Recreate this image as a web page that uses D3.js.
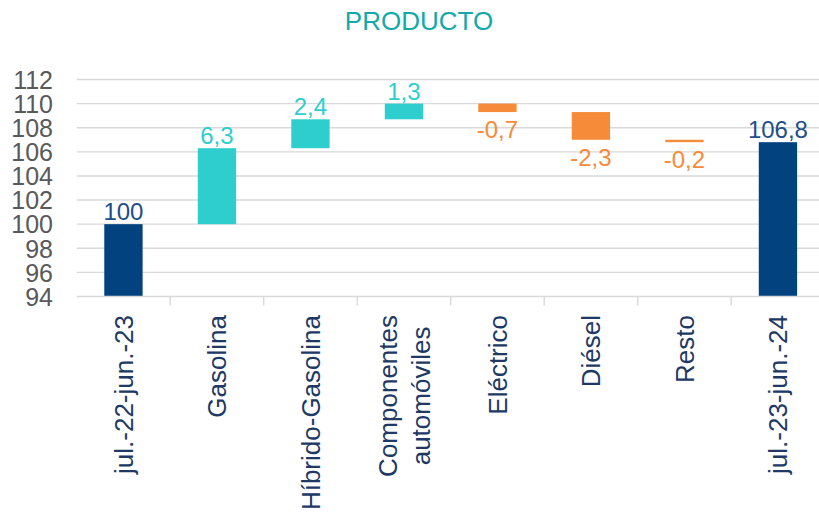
<!DOCTYPE html>
<html><head><meta charset="utf-8">
<script src="https://cdn.jsdelivr.net/npm/d3@7"></script>
<style>body{margin:0;background:#fff}svg{display:block;font-family:"Liberation Sans",Arial,sans-serif}</style>
</head><body><svg id="c" width="819" height="513"></svg>
<script>
const categories = ["jul.-22-jun.-23","Gasolina","Híbrido-Gasolina","Componentes\nautomóviles","Eléctrico","Diésel","Resto","jul.-23-jun.-24"];
const values = [100, 6.3, 2.4, 1.3, -0.7, -2.3, -0.2, 106.8];
const kinds = ["total","delta","delta","delta","delta","delta","delta","total"];
const labels = ["100","6,3","2,4","1,3","-0,7","-2,3","-0,2","106,8"];
const yTicks = [94,96,98,100,102,104,106,108,110,112];
const title = "PRODUCTO";

const svg = d3.select("#c");
const x0 = 76.7, step = 93.5;
const x = d3.scaleBand().domain(categories).range([x0, x0 + step*categories.length]).paddingInner(0.59).paddingOuter(0.295);
const y = d3.scaleLinear().domain([94,112]).range([296.5, 79.5]);

const grid = "#d9d9d9";
svg.append("text").attr("x",419).attr("y",30).attr("text-anchor","middle")
  .attr("font-size",26).attr("fill","#13A9A9").text(title);

// gridlines
svg.append("g").selectAll("line").data(yTicks.slice(1)).join("line")
  .attr("x1",x0).attr("x2",819).attr("y1",d=>y(d)).attr("y2",d=>y(d))
  .attr("stroke",grid).attr("stroke-width",1.4);

// y axis labels
const yAxis = d3.axisLeft(y).tickValues(yTicks).tickSize(0).tickPadding(0).tickFormat(d3.format("d"));
const gy = svg.append("g").attr("transform","translate(53,0)").call(yAxis);
gy.select(".domain").remove();
gy.selectAll("text").attr("font-size",25).attr("fill","#595959").attr("font-family","Liberation Sans, Arial, sans-serif").attr("dy","0.35em");

// bars
let run = 0;
const bars = categories.map((c,i)=>{
  let lo, hi;
  if (kinds[i]==="total"){ lo = 94; hi = values[i]; run = values[i]; }
  else { const s = run; run = +(run + values[i]).toFixed(4); lo = Math.min(s,run); hi = Math.max(s,run); }
  const color = kinds[i]==="total" ? "#02427F" : (values[i]>=0 ? "#2ECECE" : "#F68B3A");
  const lcolor = kinds[i]==="total" ? "#1F4E87" : color;
  return {c, lo, hi, color, lcolor, neg: values[i]<0, label: labels[i]};
});
svg.append("g").selectAll("rect").data(bars).join("rect")
  .attr("x",d=>x(d.c)).attr("width",x.bandwidth())
  .attr("y",d=>y(d.hi)).attr("height",d=>Math.max(2, y(d.lo)-y(d.hi)))
  .attr("fill",d=>d.color);

svg.append("g").selectAll("text").data(bars).join("text")
  .attr("x",d=>x(d.c)+x.bandwidth()/2)
  .attr("y",d=>d.neg ? y(d.lo)+26 : y(d.hi)-4)
  .attr("text-anchor","middle").attr("font-size",24).attr("fill",d=>d.lcolor)
  .text(d=>d.label);

// x axis
const xAxisG = svg.append("g");
xAxisG.append("line").attr("x1",x0).attr("x2",819).attr("y1",y(94)).attr("y2",y(94)).attr("stroke",grid).attr("stroke-width",1.4);
const bounds = d3.range(1, categories.length).map(i=>x0+i*step);
xAxisG.selectAll("line.tk").data(bounds).join("line").attr("class","tk")
  .attr("x1",d=>d).attr("x2",d=>d).attr("y1",y(94)).attr("y2",y(94)+9)
  .attr("stroke",grid).attr("stroke-width",1.4);

const topY = 315, lh = 33;
categories.forEach(c=>{
  const lines = c.split("\n");
  const cx = x(c)+x.bandwidth()/2;
  const g = xAxisG.append("g");
  const ts = lines.map((l,j)=> g.append("text").attr("font-size",26).attr("fill","#203864").attr("dy","0.35em").text(l));
  const lens = ts.map(t=>t.node().getComputedTextLength());
  const maxL = d3.max(lens);
  const midY = topY + maxL/2;
  ts.forEach((t,j)=>{
    const off = (j - (lines.length-1)/2)*lh;
    t.attr("text-anchor","middle").attr("transform",`translate(${cx+off},${midY}) rotate(-90)`);
  });
});
</script></body></html>
